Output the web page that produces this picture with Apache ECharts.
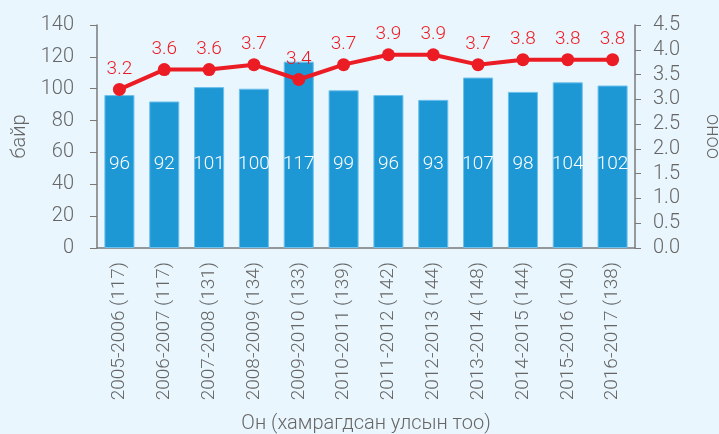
<!DOCTYPE html>
<html>
<head>
<meta charset="utf-8">
<script src="https://cdn.jsdelivr.net/npm/echarts@6/dist/echarts.min.js"></script>
<style>
  html, body { margin: 0; padding: 0; background: #e9f6fd; }
  #chart { width: 719px; height: 434px; }
</style>
</head>
<body>
<div id="chart"></div>
<script>
// хичээлийн жил (хамрагдсан улсын тоо)
const years = ['2005-2006 (117)', '2006-2007 (117)', '2007-2008 (131)', '2008-2009 (134)',
  '2009-2010 (133)', '2010-2011 (139)', '2011-2012 (142)', '2012-2013 (144)',
  '2013-2014 (148)', '2014-2015 (144)', '2015-2016 (140)', '2016-2017 (138)'];
const rank = [96, 92, 101, 100, 117, 99, 96, 93, 107, 98, 104, 102];   // байр
const score = [3.2, 3.6, 3.6, 3.7, 3.4, 3.7, 3.9, 3.9, 3.7, 3.8, 3.8, 3.8]; // оноо

const font = 'Roboto, "Liberation Sans", sans-serif';
const gray = '#666';
const axisColor = '#7a7a7a';

let myChart = echarts.init(document.getElementById('chart'));
let option = {
    backgroundColor: '#e9f6fd',
    textStyle: { fontFamily: font, fontWeight: 300 },
    grid: { left: 97, right: 84, top: 25, bottom: 186, containLabel: false, outerBoundsMode: 'none' },
    xAxis: {
        type: 'category',
        data: years,
        name: 'Он (хамрагдсан улсын тоо)',
        nameLocation: 'middle',
        nameGap: 166,
        nameTextStyle: { color: gray, fontSize: 20, fontFamily: font, fontWeight: 300 },
        axisLine: { lineStyle: { color: axisColor, width: 1.5 } },
        axisTick: { show: false },
        axisLabel: { rotate: 90, margin: 14, color: gray, fontSize: 19, fontFamily: font, fontWeight: 300 }
    },
    yAxis: [
        {
            type: 'value',
            min: 0, max: 140, interval: 20,
            name: 'байр',
            nameLocation: 'middle',
            nameGap: 64,
            nameTextStyle: { color: gray, fontSize: 20, fontFamily: font, fontWeight: 300 },
            splitLine: { show: false },
            axisLine: { show: true, lineStyle: { color: axisColor, width: 1.5 } },
            axisTick: { show: true, length: 7, lineStyle: { color: axisColor } },
            axisLabel: { margin: 23, color: gray, fontSize: 20, fontFamily: font, fontWeight: 300 }
        },
        {
            type: 'value',
            min: 0, max: 4.5, interval: 0.5,
            name: 'оноо',
            nameLocation: 'middle',
            nameRotate: -90,
            nameGap: 67,
            nameTextStyle: { color: gray, fontSize: 20, fontFamily: font, fontWeight: 300 },
            splitLine: { show: false },
            axisLine: { show: true, lineStyle: { color: axisColor, width: 1.5 } },
            axisTick: { show: true, length: 6, lineStyle: { color: axisColor } },
            axisLabel: {
                margin: 18, color: gray, fontSize: 20, fontFamily: font, fontWeight: 300,
                formatter: v => v.toFixed(1)
            }
        }
    ],
    series: [
        {
            name: 'байр',
            type: 'bar',
            data: rank,
            barWidth: '67%',
            itemStyle: { color: '#1e98d5', borderColor: '#6cc0ec', borderWidth: 1 },
            label: {
                show: true,
                position: 'insideBottom',
                distance: 74,
                color: '#fff',
                fontSize: 19,
                fontFamily: font,
                fontWeight: 300
            },
            z: 2
        },
        {
            name: 'оноо',
            type: 'line',
            yAxisIndex: 1,
            data: score,
            symbol: 'circle',
            symbolSize: 13,
            lineStyle: { color: '#ec1c24', width: 4 },
            itemStyle: { color: '#ec1c24' },
            label: {
                show: true,
                position: 'top',
                distance: 4,
                color: '#ec1c24',
                fontSize: 19,
                fontFamily: font,
                fontWeight: 300,
                formatter: p => p.value.toFixed(1)
            },
            z: 3
        }
    ]
};
myChart.setOption(option);
window.onresize = myChart.resize;
</script>
</body>
</html>
